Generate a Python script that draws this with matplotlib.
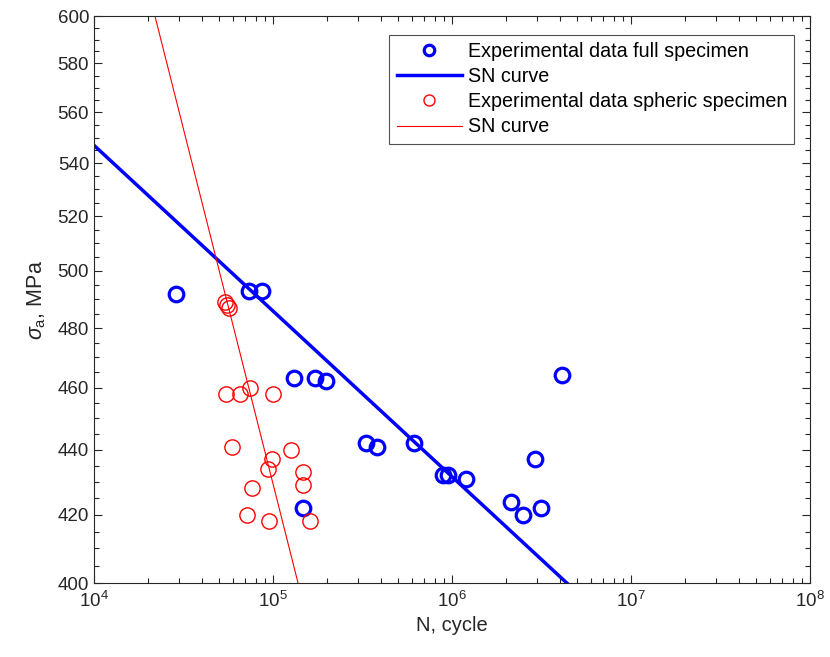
import numpy as np
import matplotlib
matplotlib.use("Agg")
import matplotlib.pyplot as plt
from matplotlib.ticker import FixedLocator, FuncFormatter, LogLocator, NullFormatter

# Experimental data, full specimen
full_N = [28600, 73750, 86800, 131500, 171700, 196800, 147600, 332000, 382500,
          613000, 894000, 954000, 1197000, 2136000, 2502000, 3154000, 2920000, 4100000]
full_sigma = [492, 493, 493, 463, 463, 462, 422, 442, 441,
              442, 432, 432, 431, 424, 420, 422, 437, 464]

# SN curve, full specimen (end points)
sn_full_N = [1.0e4, 4.38e6]
sn_full_sigma = [547, 400]

# Experimental data, spheric specimen
sph_N = [53800, 55100, 56500, 54630, 65660, 74100, 100000, 58750, 126100,
         98300, 93300, 146500, 146500, 76300, 71560, 95000, 161600]
sph_sigma = [489, 488, 487, 458, 458, 460, 458, 441, 440,
             437, 434, 433, 429, 428, 420, 418, 418]

# SN curve, spheric specimen (end points)
sn_sph_N = [2.19e4, 1.38e5]
sn_sph_sigma = [600, 400]

y_ticks = [400, 420, 440, 460, 480, 500, 520, 540, 560, 580, 600]
y_minor = list(range(400, 601, 5))

plt.rcParams['font.family'] = ['Liberation Sans', 'DejaVu Sans']
plt.rcParams['mathtext.fontset'] = 'custom'
plt.rcParams['mathtext.it'] = 'Liberation Sans:italic'
plt.rcParams['mathtext.rm'] = 'Liberation Sans'

fig = plt.figure(figsize=(8.30, 6.57), dpi=100)
ax = fig.add_axes([94/830, 1-583/657, (810-94)/830, (583-16)/657])

ax.plot(full_N, full_sigma, 'o', ls='none', mfc='none', mec='#0000ff', mew=2.3, ms=10.5,
        label='Experimental data full specimen', zorder=3)
ax.plot(sn_full_N, sn_full_sigma, '-', color='#0000ff', lw=2.5, label='SN curve', zorder=2)
ax.plot(sph_N, sph_sigma, 'o', ls='none', mfc='none', mec='#ff0000', mew=1.0, ms=11,
        label='Experimental data spheric specimen', zorder=3)
ax.plot(sn_sph_N, sn_sph_sigma, '-', color='#ff0000', lw=0.8, label='SN curve', zorder=2)

ax.set_xscale('log')
ax.set_yscale('log')
ax.set_xlim(1e4, 1e8)
ax.set_ylim(400, 600)

ax.xaxis.set_major_locator(LogLocator(base=10, numticks=10))
ax.xaxis.set_minor_locator(LogLocator(base=10, subs=np.arange(2, 10), numticks=100))
ax.xaxis.set_minor_formatter(NullFormatter())
ax.yaxis.set_major_locator(FixedLocator(y_ticks))
ax.yaxis.set_minor_locator(FixedLocator(y_minor))
ax.yaxis.set_major_formatter(FuncFormatter(lambda v, p: f"{v:.0f}"))
ax.yaxis.set_minor_formatter(NullFormatter())

axis_col = '#262626'
for s in ax.spines.values():
    s.set_color(axis_col)
    s.set_linewidth(0.8)
ax.tick_params(which='both', direction='in', top=True, right=True, colors=axis_col,
               labelcolor='#262626', labelsize=13.5)
ax.tick_params(which='major', length=6, width=0.8)
ax.tick_params(which='minor', length=3.5, width=0.8)
ax.tick_params(axis='x', pad=6)

ax.set_xlabel('N, cycle', fontsize=14.5, color='#262626', labelpad=3)
ax.set_ylabel(r'$\sigma_{\rm a}$, MPa', fontsize=15.5, color='#262626', labelpad=7)

leg = ax.legend(loc='upper right', bbox_to_anchor=(794/830, 1-35/657),
                bbox_transform=fig.transFigure, fontsize=14.2, frameon=True,
                fancybox=False, edgecolor='#262626', handlelength=3.3, markerscale=0.72,
                borderpad=0.36, labelspacing=0.31, handletextpad=0.3, borderaxespad=0)
leg.get_frame().set_linewidth(0.8)

fig.savefig('out.png', dpi=100)
